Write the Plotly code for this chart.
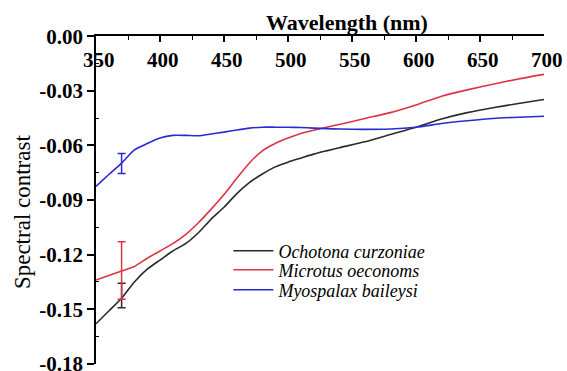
import plotly.graph_objects as go

wavelength = [350, 360, 370, 380, 390, 400, 410, 420, 430, 440, 450, 460, 470, 480,
              490, 500, 510, 520, 530, 540, 560, 580, 600, 620, 640, 660, 680, 700]

ochotona = [-0.158, -0.151, -0.144, -0.135, -0.128, -0.123, -0.118, -0.114, -0.108, -0.1005,
            -0.094, -0.0865, -0.0803, -0.0757, -0.0718, -0.0692, -0.067, -0.0648, -0.063, -0.0613,
            -0.058, -0.054, -0.050, -0.0455, -0.042, -0.0393, -0.037, -0.0348]

microtus = [-0.134, -0.1315, -0.129, -0.1265, -0.122, -0.118, -0.114, -0.109, -0.1025, -0.095,
            -0.087, -0.078, -0.0695, -0.063, -0.059, -0.056, -0.0535, -0.0517, -0.050, -0.0485,
            -0.0452, -0.042, -0.0378, -0.033, -0.0295, -0.0264, -0.0235, -0.021]

myospalax = [-0.0825, -0.076, -0.0697, -0.0625, -0.059, -0.056, -0.0545, -0.0545, -0.0547, -0.0537,
             -0.0527, -0.0515, -0.0505, -0.050, -0.050, -0.050, -0.0502, -0.0505, -0.0508, -0.051,
             -0.0512, -0.051, -0.050, -0.048, -0.0465, -0.0452, -0.0445, -0.044]

err_x = [370]
ochotona_err_center = [-0.1425]
ochotona_err = [0.0067]
microtus_err_center = [-0.1287]
microtus_err = [0.0158]
myospalax_err_center = [-0.0699]
myospalax_err = [0.0055]

series_names = ["Ochotona curzoniae", "Microtus oeconoms", "Myospalax baileysi"]
colors = ["#2a2a2a", "#dc3444", "#2a2ad0"]

y_tickvals = [0.0, -0.03, -0.06, -0.09, -0.12, -0.15, -0.18]
y_ticktext = ["0.00", "-0.03", "-0.06", "-0.09", "-0.12", "-0.15", "-0.18"]
x_tickvals = [350, 400, 450, 500, 550, 600, 650, 700]
x_ticktext = ["350", "400", "450", "500", "550", "600", "650", "700"]

FONT = "Liberation Serif"

fig = go.Figure()
legend_ids = ["legend", "legend2", "legend3"]
for name, ys, col, lg in zip(series_names, [ochotona, microtus, myospalax], colors, legend_ids):
    fig.add_trace(go.Scatter(x=wavelength, y=ys, mode="lines", name="<i>" + name + "</i>",
                             legend=lg,
                             line=dict(color=col, width=1.6, shape="spline", smoothing=0.6)))

for cen, err, col in zip([ochotona_err_center, microtus_err_center, myospalax_err_center],
                         [ochotona_err, microtus_err, myospalax_err], colors):
    fig.add_trace(go.Scatter(x=err_x, y=cen, mode="markers", showlegend=False,
                             marker=dict(size=1, color=col, opacity=0),
                             error_y=dict(type="data", array=err, color=col, thickness=1.5, width=4)))

leg_common = dict(x=0.2955, xanchor="left", yanchor="middle", bgcolor="rgba(0,0,0,0)",
                  font=dict(size=18, family=FONT, color="black"), itemwidth=40)

annotations = [
    dict(text="<b>Wavelength (nm)</b>", x=0.56, y=1.0, xref="paper", yref="paper",
         xanchor="center", yanchor="middle", yshift=14, showarrow=False,
         font=dict(size=22, family=FONT)),
    dict(text="Spectral contrast", x=-0.165, y=0.4634, xref="paper", yref="paper",
         xanchor="center", yanchor="middle", showarrow=False, textangle=-90,
         font=dict(size=23, family=FONT)),
]
for v, t in zip(x_tickvals, x_ticktext):
    annotations.append(dict(text="<b>" + t + "</b>", x=v, xref="x", y=1.0, yref="paper",
                            xanchor="center", yanchor="middle", yshift=-24, xshift=3,
                            showarrow=False, font=dict(size=21, family=FONT)))

fig.update_layout(
    width=567, height=371,
    margin=dict(l=96, r=23, t=36, b=7),
    paper_bgcolor="white", plot_bgcolor="white",
    font=dict(family=FONT, color="black"),
    showlegend=True,
    legend=dict(y=0.3445, **leg_common),
    legend2=dict(y=0.2866, **leg_common),
    legend3=dict(y=0.2256, **leg_common),
    xaxis=dict(range=[350, 700], side="top", tickvals=x_tickvals, showticklabels=False,
               automargin=False,
               ticks="inside", ticklen=6, tickwidth=1.5, tickcolor="black",
               showline=True, linecolor="black", linewidth=1.5, showgrid=False, zeroline=False,
               minor=dict(dtick=25, ticks="inside", ticklen=4, tickwidth=1.2, tickcolor="black")),
    yaxis=dict(range=[-0.1801, 0.0001], tickvals=y_tickvals, ticktext=y_ticktext,
               automargin=False,
               ticks="outside", ticklen=7, tickwidth=1.5, tickcolor="black",
               ticklabeloverflow="allow",
               tickfont=dict(size=21, family=FONT, weight="bold"),
               showline=True, linecolor="black", linewidth=1.5, showgrid=False, zeroline=False,
               minor=dict(tickvals=[-0.015, -0.045, -0.075, -0.105, -0.135, -0.165],
                          ticks="inside", ticklen=3, tickwidth=1.2, tickcolor="black")),
    annotations=annotations,
)

fig.write_html("out.html")
